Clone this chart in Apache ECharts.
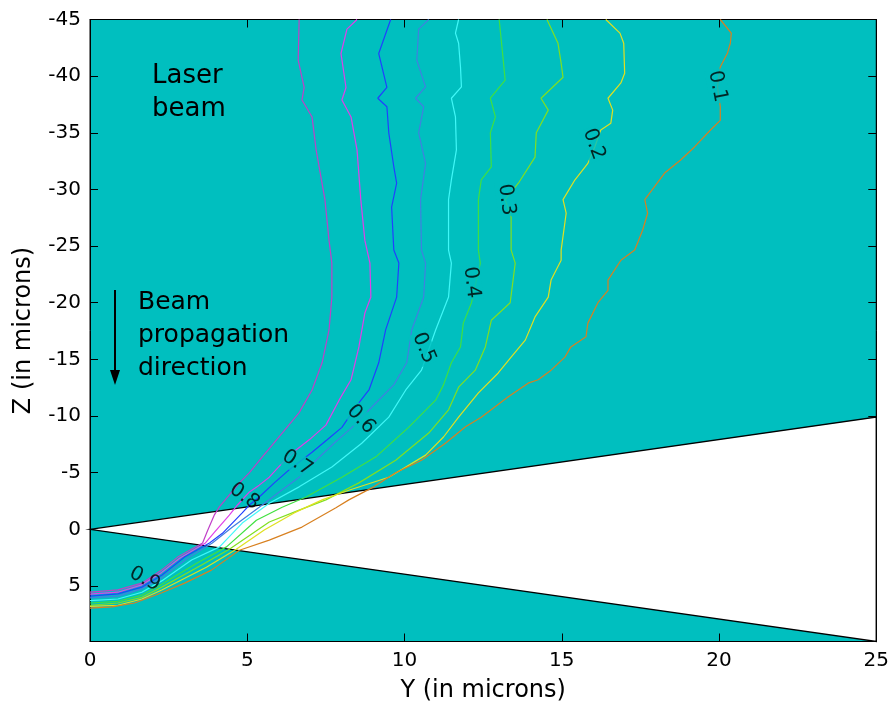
<!DOCTYPE html>
<html>
<head>
<meta charset="utf-8">
<script src="https://cdn.jsdelivr.net/npm/echarts@6/dist/echarts.min.js"></script>
<style>
html,body{margin:0;padding:0;background:#fff;}
#chart{width:892px;height:713px;}
</style>
</head>
<body>
<div id="chart"></div>
<script>
// Axis ranges / ticks
const xMin = 0, xMax = 25, xStep = 5;
const zMin = -45, zMax = 9.9, zStep = 5;

// White wedge (Y, Z) vertices
const wedgeY = [0, 25, 25];
const wedgeZ = [0, -9.9, 9.9];

// Contour lines: [Y, Z] pairs
const c09 = [[6.65,-45],[6.62,-41.4],[6.81,-39.0],[6.74,-37.9],[7.06,-36.4],[7.19,-33.5],[7.47,-29.1],[7.60,-25.5],[7.69,-23.5],[7.69,-20.5],[7.60,-17.6],[7.38,-14.7],[7.06,-12.3],[6.65,-10.3],[6.11,-8.5],[5.48,-6.4],[5.07,-5.0],[4.75,-4.1],[4.12,-2.0],[3.96,-1.3],[3.74,0.1],[3.58,1.2],[2.79,2.45],[2.28,3.6],[1.65,4.75],[0.89,5.35],[0,5.55]];
const c08 = [[8.49,-45],[8.17,-44.15],[7.98,-42.0],[8.14,-39.0],[8.01,-37.9],[8.30,-36.4],[8.49,-33.5],[8.61,-29.1],[8.74,-25.5],[8.90,-23.5],[8.93,-20.5],[8.74,-19.1],[8.55,-16.1],[8.30,-13.2],[7.92,-11.4],[7.50,-9.2],[6.97,-7.9],[6.55,-7.0],[6.11,-5.85],[5.70,-4.6],[5.38,-3.9],[5.07,-3.3],[4.69,-2.15],[4.43,-1.25],[3.96,0.25],[3.67,1.2],[2.85,2.55],[2.28,3.8],[1.65,4.9],[0.89,5.55],[0,5.72]];
const c07 = [[9.56,-45],[9.18,-42.0],[9.44,-39.0],[9.15,-38.05],[9.44,-37.3],[9.50,-35.0],[9.66,-32.0],[9.75,-30.55],[9.59,-28.45],[9.66,-24.65],[9.82,-23.5],[9.75,-20.5],[9.40,-17.6],[9.18,-14.7],[8.87,-12.3],[8.45,-10.8],[8.01,-9.0],[7.54,-7.9],[7.06,-6.8],[6.33,-5.25],[5.86,-4.1],[5.38,-2.85],[5.07,-2.15],[4.84,-1.45],[4.21,0.35],[3.80,1.2],[3.01,2.45],[2.28,4.05],[1.65,5.1],[0.89,5.7],[0,5.9]];
const c06 = [[10.77,-45],[10.45,-44.15],[10.39,-41.4],[10.67,-39.05],[10.35,-38.05],[10.61,-37.3],[10.45,-35.0],[10.67,-32.3],[10.51,-29.1],[10.54,-24.65],[10.67,-23.5],[10.61,-20.5],[10.23,-17.6],[10.07,-14.7],[9.66,-12.75],[9.09,-11.15],[8.33,-9.0],[7.76,-7.6],[7.19,-6.1],[6.65,-4.6],[6.02,-3.3],[5.38,-1.95],[4.53,-0.2],[3.89,1.2],[3.10,2.55],[2.28,4.3],[1.65,5.25],[0.89,5.9],[0,6.05]];
const c05 = [[11.72,-45],[11.62,-43.8],[11.72,-42.9],[11.78,-40.8],[11.81,-39.05],[11.49,-38.05],[11.62,-36.4],[11.65,-33.5],[11.49,-30.85],[11.40,-29.1],[11.40,-24.65],[11.49,-23.5],[11.40,-20.5],[10.99,-17.6],[10.54,-14.05],[10.04,-12.3],[9.50,-9.9],[8.64,-7.6],[7.69,-5.5],[6.65,-3.75],[5.70,-2.3],[4.84,-0.55],[4.12,1.55],[3.23,2.7],[2.28,4.55],[1.65,5.55],[0.89,6.15],[0,6.3]];
const c04 = [[13.01,-45],[13.14,-41.4],[13.20,-39.65],[12.73,-38.05],[12.89,-36.4],[12.73,-35.0],[12.76,-32.0],[12.44,-30.85],[12.35,-29.1],[12.35,-24.65],[12.41,-23.5],[12.13,-20.0],[11.87,-18.2],[11.78,-16.1],[11.49,-14.7],[11.24,-12.75],[10.99,-11.4],[10.13,-9.0],[9.09,-6.4],[8.01,-4.6],[6.87,-2.85],[6.11,-1.95],[5.29,-0.8],[4.34,1.55],[3.42,2.95],[2.28,4.85],[1.65,5.8],[0.89,6.35],[0,6.5]];
const c03 = [[14.53,-45],[14.88,-42.9],[14.98,-41.15],[15.04,-39.9],[14.34,-38.05],[14.57,-37.0],[14.19,-35.0],[14.15,-32.85],[13.62,-30.55],[13.20,-29.1],[13.39,-27.55],[13.39,-24.65],[13.52,-23.5],[13.36,-20.0],[12.76,-18.45],[12.57,-16.1],[12.25,-14.05],[11.72,-12.55],[11.40,-10.55],[10.77,-8.5],[9.72,-6.1],[8.55,-4.1],[7.50,-2.6],[6.65,-1.7],[5.70,-0.65],[4.43,1.75],[3.55,3.15],[2.28,5.1],[1.65,6.0],[0.89,6.5],[0,6.7]];
const c02 = [[16.40,-45],[16.85,-43.8],[16.97,-42.9],[17.00,-40.25],[16.88,-39.4],[16.47,-38.05],[16.62,-37.0],[16.56,-35.85],[16.24,-35.25],[16.05,-33.75],[15.83,-32.3],[15.42,-30.85],[15.04,-29.1],[15.14,-27.9],[14.98,-24.65],[14.98,-23.75],[14.66,-22.0],[14.57,-20.5],[14.15,-18.75],[13.84,-16.7],[13.39,-15.2],[12.98,-13.8],[12.35,-12.05],[11.72,-9.9],[11.24,-8.15],[10.67,-6.55],[9.50,-4.6],[8.23,-3.45],[7.38,-2.6],[6.49,-1.45],[5.54,0.05],[4.65,1.75],[3.70,3.35],[2.28,5.35],[1.65,6.15],[0.89,6.7],[0,6.8]];
const c01 = [[20.04,-45],[20.39,-43.8],[20.36,-42.9],[20.27,-42.05],[20.04,-40.8],[19.95,-39.05],[20.04,-37.3],[20.04,-36.1],[19.73,-35.25],[19.22,-33.75],[18.78,-32.6],[18.27,-31.45],[17.64,-29.1],[17.73,-27.9],[17.57,-26.4],[17.32,-24.65],[16.88,-23.75],[16.47,-22.0],[16.47,-21.1],[16.15,-20.0],[15.83,-18.2],[15.77,-17.0],[15.29,-16.1],[15.10,-15.2],[14.66,-14.05],[14.25,-13.2],[13.93,-12.9],[13.30,-11.7],[12.44,-9.9],[11.94,-9.05],[11.30,-7.6],[10.54,-6.1],[9.72,-5.0],[9.02,-3.75],[8.23,-2.6],[7.82,-1.9],[6.74,-0.2],[5.70,0.95],[4.75,1.85],[3.86,3.6],[3.01,4.75],[2.28,5.6],[1.42,6.5],[0.70,6.85],[0,6.95]];

const contourLevels = ['0.9','0.8','0.7','0.6','0.5','0.4','0.3','0.2','0.1'];
const contourData = [c09, c08, c07, c06, c05, c04, c03, c02, c01];
const contourColors = ['#C040C8','#E040E8','#2040FF','#4080E0','#40F8F8','#40E040','#80E020','#E0E020','#D88020'];

// Inline contour labels
const labelText = ['0.1','0.2','0.3','0.4','0.5','0.6','0.7','0.8','0.9'];
const labelY = [19.95, 16.02, 13.24, 12.13, 10.61, 8.61, 6.59, 4.91, 1.74];
const labelZ = [-39.1, -34.0, -29.1, -21.8, -16.0, -9.7, -5.85, -2.9, 4.4];
const labelRot = [-79, -70, -83, -83, -67, -47, -32, -35, -27];
const labelBg = [true, true, true, true, true, true, true, false, false];

const TEAL = '#00BFBF';
const FONT = 'DejaVu Sans';

const chart = echarts.init(document.getElementById('chart'), null, {renderer: 'canvas'});

const axisCommon = {
  axisLine: {show: true, onZero: false, lineStyle: {color: '#000', width: 1}},
  axisTick: {show: true, inside: true, length: 8, lineStyle: {color: '#000', width: 1}},
  splitLine: {show: false}
};

const lineSeries = contourData.map((d, i) => ({
  type: 'line',
  name: contourLevels[i],
  data: d,
  showSymbol: false,
  symbol: 'none',
  smooth: false,
  lineStyle: {color: contourColors[i], width: 1.2},
  z: 3,
  silent: true,
  animation: false
}));

const option = {
  animation: false,
  grid: {left: 90, right: 12.4, top: 19.5, bottom: 71.5, show: true, backgroundColor: TEAL, borderColor: '#000', borderWidth: 1},
  xAxis: [
    Object.assign({}, axisCommon, {
      type: 'value', min: xMin, max: xMax, interval: xStep, position: 'bottom',
      axisLabel: {fontFamily: FONT, fontSize: 20, color: '#000', margin: 9},
      name: 'Y (in microns)', nameLocation: 'middle', nameGap: 37,
      nameTextStyle: {fontFamily: FONT, fontSize: 24, color: '#000'}
    }),
    Object.assign({}, axisCommon, {
      type: 'value', min: xMin, max: xMax, interval: xStep, position: 'top',
      axisLabel: {show: false}
    })
  ],
  yAxis: [
    Object.assign({}, axisCommon, {
      type: 'value', inverse: true, min: zMin, max: zMax, interval: zStep, position: 'left',
      axisLabel: {fontFamily: FONT, fontSize: 20, color: '#000', margin: 9,
        formatter: v => (Math.abs(v % zStep) < 1e-9 ? String(v) : '')},
      name: 'Z (in microns)', nameLocation: 'middle', nameGap: 54, nameRotate: 90,
      nameTextStyle: {fontFamily: FONT, fontSize: 24, color: '#000'}
    }),
    Object.assign({}, axisCommon, {
      type: 'value', inverse: true, min: zMin, max: zMax, interval: zStep, position: 'right',
      axisLabel: {show: false}
    })
  ],
  series: [
    {
      type: 'custom',
      data: wedgeY.map((y, i) => [y, wedgeZ[i]]),
      encode: {x: 0, y: 1},
      z: 1,
      silent: true,
      renderItem: function (params, api) {
        if (params.dataIndex !== 0) return null;
        const pts = wedgeY.map((y, i) => api.coord([y, wedgeZ[i]]));
        return {type: 'polygon', shape: {points: pts},
          style: {fill: '#ffffff', stroke: '#000', lineWidth: 1.4}};
      }
    }
  ].concat(lineSeries).concat([
    {
      type: 'scatter',
      symbolSize: 0,
      z: 5,
      silent: true,
      data: labelY.map((y, i) => ({
        value: [y, labelZ[i]],
        label: {rotate: labelRot[i], backgroundColor: labelBg[i] ? TEAL : 'transparent'}
      })),
      label: {
        show: true, position: 'inside',
        formatter: p => labelText[p.dataIndex],
        fontFamily: FONT, fontSize: 20, color: '#000', padding: [0, 1]
      }
    }
  ]),
  graphic: [
    {type: 'text', left: 152, top: 60, silent: true,
      style: {text: 'Laser\nbeam', font: '26px "DejaVu Sans"', fill: '#000', lineHeight: 33}},
    {type: 'text', left: 138, top: 286, silent: true,
      style: {text: 'Beam\npropagation\ndirection', font: '25px "DejaVu Sans"', fill: '#000', lineHeight: 33}},
    {type: 'line', silent: true, shape: {x1: 115, y1: 290, x2: 115, y2: 374}, style: {stroke: '#000', lineWidth: 2}},
    {type: 'polygon', silent: true, shape: {points: [[110, 370], [120, 370], [115, 385]]}, style: {fill: '#000'}},
    {type: 'text', left: 627, top: 450, silent: true,
      style: {text: 'All numbers next to\ncontour lines denote', font: '24px "DejaVu Sans"', fill: '#000', lineHeight: 32}},
    {type: 'text', left: 627, top: 534, silent: true,
      style: {text: 'estimated trapping\nprobabilities', font: '24px "DejaVu Sans"', fill: '#000', lineHeight: 35}}
  ]
};

chart.setOption(option);
</script>
</body>
</html>
